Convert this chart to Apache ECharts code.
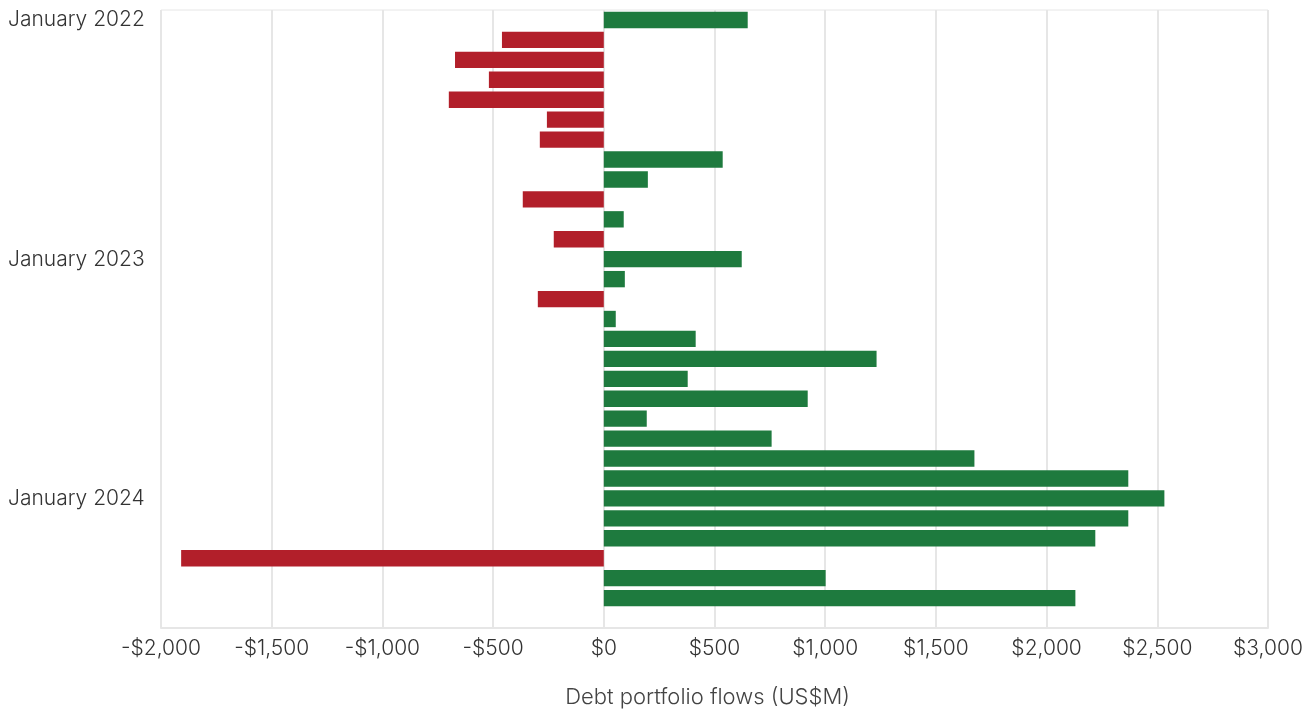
<!DOCTYPE html>
<html>
<head>
<meta charset="utf-8">
<script src="https://cdn.jsdelivr.net/npm/echarts@6/dist/echarts.min.js"></script>
<style>html,body{margin:0;padding:0;background:#fff}#c{width:1311px;height:713px}</style>
</head>
<body>
<div id="c"></div>
<script>
const months = ["January 2022","February 2022","March 2022","April 2022","May 2022","June 2022","July 2022","August 2022","September 2022","October 2022","November 2022","December 2022",
"January 2023","February 2023","March 2023","April 2023","May 2023","June 2023","July 2023","August 2023","September 2023","October 2023","November 2023","December 2023",
"January 2024","February 2024","March 2024","April 2024","May 2024","June 2024"];
const flows = [650,-460,-672,-519,-700,-257,-289,537,199,-366,90,-226,
623,95,-298,54,415,1232,379,921,194,758,1674,2369,
2532,2369,2220,-1909,1002,2130];
const xTicks = [-2000,-1500,-1000,-500,0,500,1000,1500,2000,2500,3000];
const axisName = "Debt portfolio flows (US$M)";
const GREEN = "#1e7a3e", RED = "#b21f2a";
const font = "Inter";
const chart = echarts.init(document.getElementById('c'));
chart.setOption({
  animation:false,
  grid:{left:161,right:43,top:10,bottom:83,show:true,borderColor:'#e6e6e6',borderWidth:1},
  xAxis:{type:'value',min:xTicks[0],max:xTicks[xTicks.length-1],interval:500,
    axisLine:{show:true,lineStyle:{color:'#e6e6e6',width:2}},axisTick:{show:false},
    splitLine:{show:true,lineStyle:{color:'#e6e6e6',width:2}},
    axisLabel:{fontFamily:font,fontWeight:300,fontSize:21,color:'#333',margin:10,
      formatter:v=>(v<0?'-':'')+'$'+Math.abs(v).toLocaleString('en-US')},
    name:axisName,nameLocation:'middle',nameGap:58,
    nameTextStyle:{fontFamily:font,fontWeight:300,fontSize:22,color:'#444',padding:[0,14,0,0]}},
  yAxis:{type:'category',data:months,inverse:true,max:months.length,
    axisLine:{show:false},axisTick:{show:false},splitLine:{show:false},
    axisLabel:{interval:(i)=>i%12===0,fontFamily:font,fontWeight:300,fontSize:21,color:'#333',align:'left',margin:153}},
  series:[{type:'bar',barWidth:'82%',
    data:flows.map(v=>({value:v,itemStyle:{color:v<0?RED:GREEN}}))}]
});
</script>
</body>
</html>
